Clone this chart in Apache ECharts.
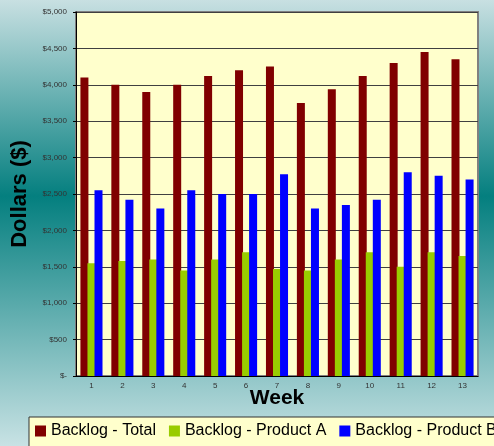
<!DOCTYPE html>
<html>
<head>
<meta charset="utf-8">
<script src="https://cdn.jsdelivr.net/npm/echarts@6/dist/echarts.min.js"></script>
<style>
  html, body { margin: 0; padding: 0; }
  #chart { width: 494px; height: 446px; }
</style>
</head>
<body>
<div id="chart"></div>
<script>
// weeks on the x axis
const weeks = ['1', '2', '3', '4', '5', '6', '7', '8', '9', '10', '11', '12', '13']
// backlog in dollars
const backlogTotal = [4100, 4000, 3900, 4000, 4120, 4200, 4250, 3750, 3940, 4120, 4300, 4450, 4350]
const backlogA = [1550, 1580, 1600, 1450, 1600, 1700, 1470, 1450, 1600, 1700, 1500, 1700, 1650]
const backlogB = [2550, 2420, 2300, 2550, 2500, 2500, 2770, 2300, 2350, 2420, 2800, 2750, 2700]
const seriesNames = ['Backlog - Total', 'Backlog - Product A', 'Backlog - Product B']

const font = '"Liberation Sans", Arial, sans-serif'

function money(v) {
  if (v === 0) return '$-'
  return '$' + String(v).replace(/\B(?=(\d{3})+(?!\d))/g, ',')
}

const chart = echarts.init(document.getElementById('chart'))
const option = {
  animation: false,
  backgroundColor: new echarts.graphic.LinearGradient(0, 0, 0, 1, [
    { offset: 0, color: '#c8e0e2' },
    { offset: 0.44, color: '#047f7f' },
    { offset: 1, color: '#c8e2e4' }
  ]),
  grid: {
    left: 76,
    right: 16,
    top: 12,
    bottom: 70,
    show: true,
    backgroundColor: '#ffffcc',
    borderColor: '#808080',
    borderWidth: 2
  },
  legend: {
    data: seriesNames,
    left: 29,
    top: 417,
    width: 600, // keep all three items on one line, box runs past the right edge
    icon: 'rect',
    itemWidth: 11,
    itemHeight: 11,
    itemGap: 13,
    padding: [6, 6, 8, 6],
    backgroundColor: '#ffffcc',
    borderColor: '#333',
    borderWidth: 1,
    textStyle: { fontFamily: font, fontSize: 16, color: '#000' }
  },
  xAxis: {
    type: 'category',
    data: weeks,
    name: 'Week',
    nameLocation: 'middle',
    nameGap: 12,
    nameMoveOverlap: false,
    nameTextStyle: { fontFamily: font, fontSize: 21, fontWeight: 'bold', color: '#000' },
    axisLine: { lineStyle: { color: '#000', width: 1 } },
    axisTick: { length: 3, lineStyle: { color: '#000' } },
    axisLabel: { fontFamily: font, fontSize: 8, color: '#333', margin: 6 }
  },
  yAxis: {
    type: 'value',
    min: 0,
    max: 5000,
    interval: 500,
    name: 'Dollars ($)',
    nameLocation: 'middle',
    nameGap: 45,
    nameMoveOverlap: false,
    nameTextStyle: { fontFamily: font, fontSize: 22, fontWeight: 'bold', color: '#000' },
    axisLine: { show: true, lineStyle: { color: '#000', width: 1 } },
    axisTick: { show: true, length: 3, lineStyle: { color: '#000' } },
    axisLabel: { fontFamily: font, fontSize: 8, color: '#333', margin: 9, formatter: money },
    splitLine: { lineStyle: { color: '#404040', width: 1 } }
  },
  series: [
    { name: seriesNames[0], type: 'bar', data: backlogTotal, barWidth: 8, barGap: '-12%', itemStyle: { color: '#800000' } },
    { name: seriesNames[1], type: 'bar', data: backlogA, barWidth: 8, barGap: '-12%', itemStyle: { color: '#99cc00' } },
    { name: seriesNames[2], type: 'bar', data: backlogB, barWidth: 8, barGap: '-12%', itemStyle: { color: '#0000ff' } }
  ]
}
chart.setOption(option)
</script>
</body>
</html>
